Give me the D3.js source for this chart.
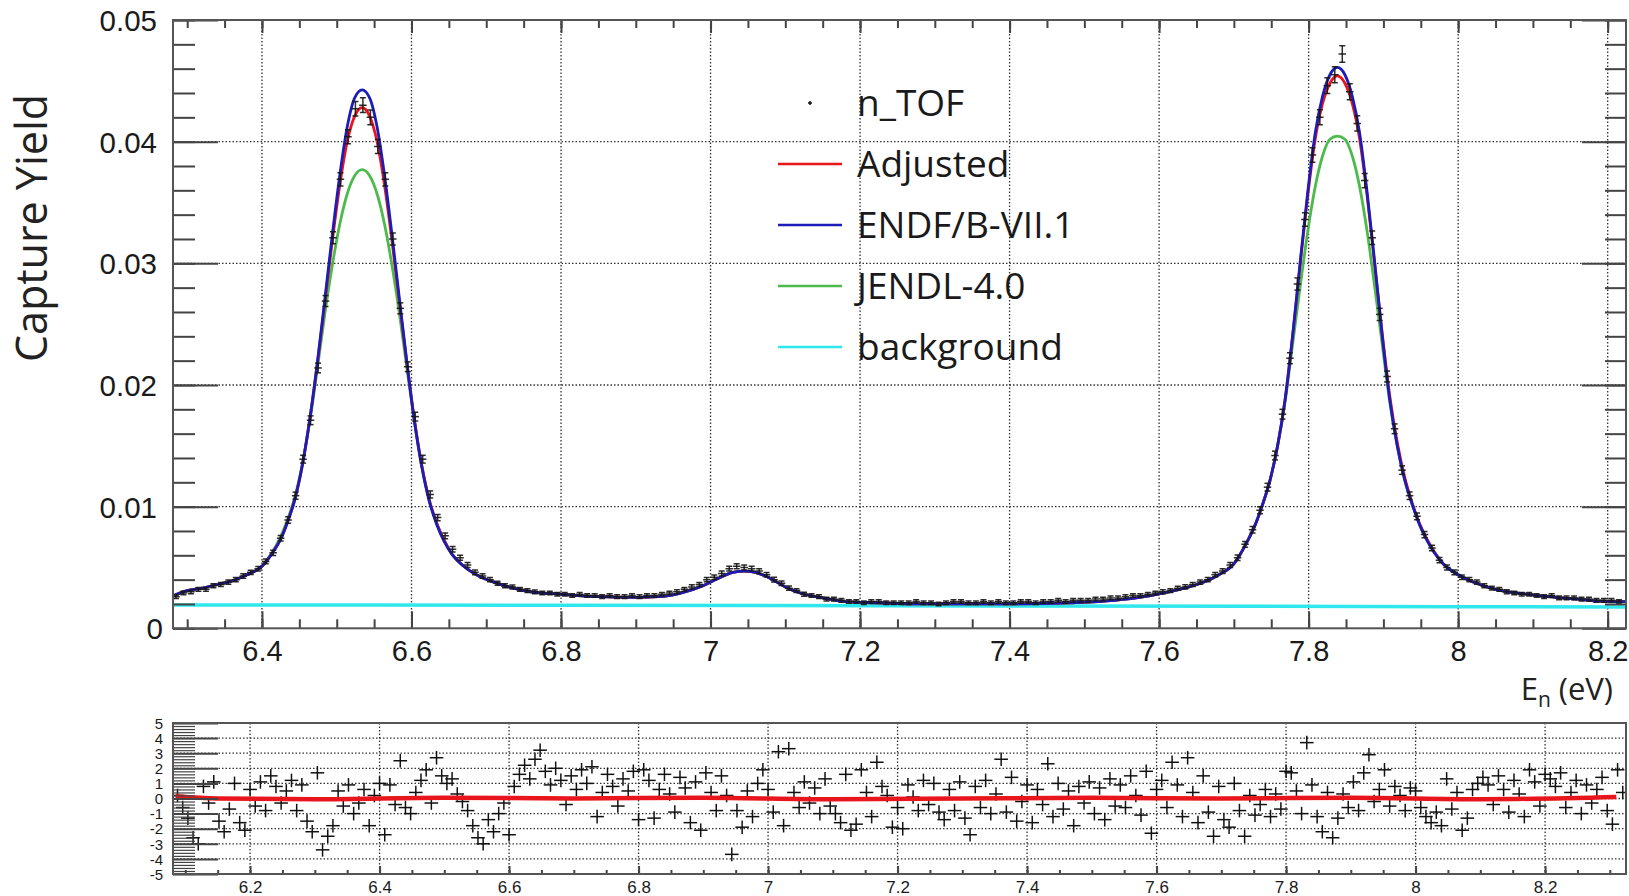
<!DOCTYPE html>
<html>
<head>
<meta charset="utf-8">
<script src="https://cdn.jsdelivr.net/npm/d3@7"></script>
<style>
body{margin:0;background:#fff;}
svg{display:block;font-family:"Open Sans",sans-serif;}
.grid line{stroke:#333;stroke-width:1.3;stroke-dasharray:1.5,2;}
.axis path{display:none;}
.axis line{stroke:#444;stroke-width:2;}
.axis text{fill:#1a1a1a;}
</style>
</head>
<body>
<script>
var curveE = [6.282,6.30,6.32,6.34,6.36,6.38,6.40,6.414,6.424,6.434,6.444,6.454,6.464,6.474,6.484,6.494,6.504,6.514,6.524,6.534,
  6.544,6.554,6.564,6.574,6.584,6.594,6.604,6.614,6.624,6.634,6.644,6.654,6.67,6.69,6.71,6.73,6.76,6.80,6.85,6.90,
  6.93,6.96,6.99,7.01,7.03,7.045,7.06,7.08,7.10,7.12,7.15,7.18,7.22,7.30,7.40,7.48,7.54,7.58,7.62,7.64,
  7.66,7.68,7.70,7.7185,7.7285,7.7385,7.7485,7.7585,7.7685,7.7785,7.7885,7.7985,7.8085,7.8185,7.8285,7.8385,7.8485,7.8585,7.8685,7.8785,
  7.8885,7.8985,7.9085,7.9185,7.9285,7.9385,7.9485,7.9585,7.98,8.00,8.02,8.05,8.08,8.12,8.16,8.20,8.225];

var endf = [.0027,.0031,.0033,.0036,.0039,.0044,.0051,.0062,.0072,.0087,.0106,.0134,.0172,.0218,.0270,.0323,.0372,.0412,.0436,.04425,
  .0436,.0412,.0372,.0323,.0270,.0218,.0170,.0132,.0104,.0085,.0071,.0061,.0051,.0043,.0038,.0034,.0030,.0028,.0026,.00255,
  .0026,.0029,.0035,.0041,.0046,.0047,.0046,.0041,.0034,.0029,.0025,.0022,.0021,.0020,.0020,.0021,.0023,.0026,.0031,.0034,
  .0038,.0044,.0053,.0072,.0085,.0102,.0122,.0150,.0188,.0240,.0300,.0357,.0406,.0437,.0455,.0461,.0455,.0437,.0406,.0357,
  .0300,.0240,.0188,.0150,.0122,.0102,.0085,.0072,.0053,.0044,.0038,.0032,.0029,.0026,.0024,.0022,.0022];

var adjusted = [.0027,.0031,.0033,.0036,.0039,.0044,.0051,.0062,.0072,.0087,.0106,.0134,.0172,.0217,.0267,.0318,.0364,.0400,.0421,.0428,
  .0421,.0400,.0364,.0318,.0267,.0217,.0171,.0133,.0105,.0086,.0072,.0061,.0051,.0043,.0038,.0034,.0030,.0028,.0026,.00255,
  .0026,.0029,.0035,.0041,.0046,.0047,.0046,.0041,.0034,.0029,.0025,.0022,.0021,.0020,.0020,.0021,.0023,.0026,.0031,.0034,
  .0038,.0044,.0053,.0072,.0085,.0102,.0122,.0150,.0188,.0240,.0298,.0354,.0401,.0431,.0448,.0454,.0448,.0431,.0401,.0354,
  .0298,.0242,.0191,.0153,.0124,.0103,.0086,.0073,.0053,.0044,.0038,.0032,.0029,.0026,.0024,.0022,.0022];

var jendl = [.0027,.0031,.0033,.0036,.0039,.0044,.0051,.0063,.0074,.0089,.0108,.0135,.0170,.0213,.0258,.0298,.0332,.0357,.0372,.0377,
  .0372,.0357,.0332,.0298,.0258,.0213,.0170,.0133,.0105,.0086,.0072,.0061,.0051,.0043,.0038,.0034,.0030,.0028,.0026,.00255,
  .0026,.0029,.0035,.0041,.0046,.0047,.0046,.0041,.0034,.0029,.0025,.0022,.0021,.0020,.0020,.0021,.0023,.0026,.0031,.0034,
  .0038,.0044,.0053,.0072,.0085,.0102,.0122,.0150,.0186,.0233,.0280,.0325,.0362,.0388,.0402,.04046,.0402,.0388,.0362,.0325,
  .0280,.0233,.0186,.0150,.0122,.0102,.0085,.0072,.0053,.0044,.0038,.0032,.0029,.0026,.0024,.0022,.0022];

var bgE = [6.281, 6.8, 7.4, 8.0, 8.2245];
var background = [0.00192, 0.00189, 0.00184, 0.00178, 0.00175];

// n_TOF capture yield, one point every 0.01 eV from 6.285 eV
var tofStart = 6.285, tofStep = 0.01;
var nTof = [.0026,.0029,.0030,.0032,.0032,.0035,.0036,.0038,.0040,.0043,
  .0046,.0049,.0055,.0062,.0074,.0089,.0109,.0139,.0171,.0214,
  .0269,.0321,.0369,.0404,.0427,.0430,.0420,.0396,.0369,.0320,
  .0263,.0215,.0174,.0139,.0110,.0091,.0076,.0065,.0058,.0052,
  .0046,.0043,.0040,.0037,.0035,.0034,.0032,.0031,.0030,.0029,
  .0029,.0028,.0028,.0027,.0028,.0027,.0027,.0026,.0027,.0026,
  .0026,.0027,.0026,.0027,.0027,.0028,.0029,.0030,.0032,.0034,
  .0036,.0040,.0042,.0045,.0049,.0051,.0050,.0049,.0047,.0044,
  .0040,.0037,.0033,.0031,.0028,.0027,.0026,.0024,.0024,.0023,
  .0022,.0022,.0021,.0022,.0022,.0021,.0021,.0021,.0021,.0022,
  .0021,.0021,.0020,.0021,.0022,.0022,.0021,.0021,.0022,.0021,
  .0022,.0021,.0021,.0022,.0022,.0021,.0022,.0022,.0023,.0022,
  .0023,.0023,.0023,.0024,.0024,.0025,.0025,.0026,.0027,.0027,
  .0028,.0029,.0030,.0031,.0033,.0034,.0036,.0038,.0040,.0044,
  .0047,.0052,.0058,.0069,.0081,.0097,.0116,.0142,.0176,.0222,
  .0283,.0336,.0389,.0420,.0446,.0455,.0472,.0441,.0415,.0368,
  .0321,.0258,.0207,.0164,.0130,.0109,.0092,.0077,.0066,.0056,
  .0050,.0046,.0042,.0040,.0038,.0035,.0033,.0032,.0030,.0029,
  .0028,.0028,.0027,.0026,.0027,.0025,.0025,.0025,.0024,.0024,
  .0023,.0023,.0023,.0022];
// uncertainties, units of 1e-4
var nTofErr = [1.5,1.5,1.5,1.5,1.5,1.6,1.6,1.7,1.7,1.8,
  1.8,1.9,2,2.1,2.3,2.6,2.9,3.2,3.6,4,
  4.5,5,5.4,5.8,6,6,6,5.8,5.5,5,
  4.5,4,3.6,3.2,2.9,2.6,2.4,2.2,2.1,2,
  1.9,1.8,1.8,1.7,1.7,1.6,1.6,1.6,1.5,1.5,
  1.5,1.5,1.5,1.5,1.5,1.5,1.5,1.5,1.5,1.5,
  1.5,1.5,1.5,1.5,1.5,1.5,1.5,1.6,1.6,1.7,
  1.7,1.8,1.9,2,2,2.1,2.1,2,2,1.9,
  1.9,1.8,1.7,1.6,1.6,1.5,1.5,1.5,1.5,1.5,
  1.5,1.5,1.5,1.5,1.5,1.5,1.5,1.5,1.5,1.5,
  1.5,1.5,1.5,1.5,1.5,1.5,1.5,1.5,1.5,1.5,
  1.5,1.5,1.5,1.5,1.5,1.5,1.5,1.5,1.5,1.5,
  1.5,1.5,1.5,1.5,1.5,1.5,1.5,1.5,1.5,1.5,
  1.5,1.5,1.6,1.6,1.6,1.7,1.7,1.8,1.8,1.9,
  2,2.1,2.2,2.4,2.6,2.9,3.2,3.6,4,4.5,
  5,5.5,5.9,6.2,6.5,6.6,6.8,6.5,6.2,5.9,
  5.5,5,4.5,4,3.5,3.1,2.8,2.5,2.3,2.1,
  2,1.9,1.8,1.8,1.7,1.7,1.6,1.6,1.6,1.5,
  1.5,1.5,1.5,1.5,1.5,1.5,1.5,1.5,1.5,1.5,
  1.5,1.5,1.5,1.5];

// residuals (sigma units), one every 0.008 eV from 6.088 eV
var resStart = 6.088, resStep = 0.008;
var residual = [0.2,-0.6,-1.3,-2.6,-3.0,0.8,-0.3,1.1,-1.5,
  -2.2,-0.7,1.0,-1.6,-2.1,0.6,
  -0.5,1.1,-0.8,1.5,0.8,-0.3,0.5,1.2,-0.8,0.9,
  -1.5,-2.2,1.7,-3.4,-2.5,
  -1.8,0.5,-0.5,0.9,-1.0,-0.3,0.6,-1.8,0.2,1.0,
  -2.4,0.9,-0.4,2.5,-0.6,-1.0,0.4,
  1.2,1.9,-0.3,2.7,1.5,1.0,1.3,0.3,-0.2,
  -0.8,-1.8,-2.6,-3.0,-1.4,-2.2,-1.0,-0.3,-2.4,
  0.8,1.6,2.2,1.3,2.6,3.2,1.8,0.9,2.0,1.2,-0.4,1.5,
  0.6,1.9,1.0,2.1,-1.2,0.4,1.6,0.8,-0.5,1.3,0.5,1.8,-1.4,
  1.9,1.2,-1.3,0.6,1.6,0.3,-0.9,1.4,0.7,-1.6,1.1,-2.1,
  1.7,0.4,-0.8,1.5,0.2,-3.7,-0.8,-1.9,0.5,-1.2,1.0,1.9,0.6,
  -0.9,3.1,-1.8,3.3,0.4,-0.6,1.1,-0.3,0.7,-1.0,1.3,-0.5,
  -1.0,-1.6,1.6,-2.1,-1.7,1.9,0.4,-1.2,2.4,0.8,0.2,-1.9,-0.6,
  -2.0,0.9,0.1,-0.8,1.2,-0.4,1.0,-0.9,-1.4,0.6,-0.8,1.1,
  -1.3,-2.4,0.8,-0.6,1.2,-1.0,0.3,2.6,-0.9,1.4,-1.5,-0.2,0.9,
  -1.6,0.6,-0.4,2.3,-1.2,1.0,-0.7,0.5,-1.8,0.8,-0.3,1.1,
  -1.0,0.7,-1.4,1.3,-0.5,0.9,-0.6,1.5,0.2,-1.1,1.8,-2.3,0.6,
  1.2,-0.6,2.4,0.9,-1.2,2.7,0.4,-1.6,1.5,-0.9,-2.5,0.8,
  -1.4,-1.9,1.0,-0.8,-2.5,0.2,-1.1,-0.4,0.6,-1.2,0.3,-0.7,1.8,
  1.7,0.5,-1.0,3.7,0.9,-1.2,-2.2,0.4,-2.6,-1.3,0.3,-0.6,
  1.1,-0.8,1.7,2.9,-0.2,0.6,1.9,-0.5,0.8,0.2,-0.8,0.7,0.5,
  -0.6,-1.2,-1.6,-0.9,-1.8,1.3,-0.7,0.4,-2.1,-1.3,0.6,1.0,
  1.4,0.9,-0.4,1.5,0.6,-0.9,1.2,0.3,-1.2,1.9,1.1,-0.5,1.6,
  1.3,0.8,1.7,-0.6,0.4,1.2,-1.0,0.9,-0.3,0.6,1.4,-0.8,-1.7,1.9,0.4];

var resLineE = [6.085,6.15,6.3,6.5,6.7,6.9,7.1,7.3,7.5,7.7,7.9,8.1,8.31];
var resLine = [0.15,0.0,-0.05,0.05,0.0,0.05,-0.05,0.0,0.05,0.0,0.05,-0.05,0.1];

var legendItems = [
  {label:"n_TOF", color:"#111", marker:true},
  {label:"Adjusted", color:"#e8161c"},
  {label:"ENDF/B-VII.1", color:"#1c1cb8"},
  {label:"JENDL-4.0", color:"#4cbb4c"},
  {label:"background", color:"#2ee8ee"}
];

var W = 1629, H = 896;
var svg = d3.select("body").append("svg").attr("width", W).attr("height", H);

// ---------- main panel ----------
var m = {left:173, right:1626, top:20, bottom:628.3};
var x = d3.scaleLinear().domain([6.281, 8.2245]).range([m.left, m.right]);
var y = d3.scaleLinear().domain([0, 0.05]).range([m.bottom, m.top]);

svg.append("clipPath").attr("id","clipMain").append("rect")
    .attr("x", m.left).attr("y", m.top).attr("width", m.right - m.left).attr("height", m.bottom - m.top);

var grid = svg.append("g").attr("class","grid");
grid.selectAll(".vx").data(x.ticks(10)).enter().append("line")
    .attr("x1", function(d){ return x(d); }).attr("x2", function(d){ return x(d); })
    .attr("y1", m.top).attr("y2", m.bottom);
grid.selectAll(".hy").data(y.ticks(5).filter(function(d){ return d > 0 && d < 0.05; })).enter().append("line")
    .attr("x1", m.left).attr("x2", m.right)
    .attr("y1", function(d){ return y(d); }).attr("y2", function(d){ return y(d); });

var plot = svg.append("g").attr("clip-path","url(#clipMain)");
var line = d3.line().curve(d3.curveMonotoneX)
    .x(function(d){ return x(d[0]); }).y(function(d){ return y(d[1]); });

plot.append("path").datum(d3.zip(bgE, background)).attr("d", line)
    .attr("fill","none").attr("stroke","#2ee8ee").attr("stroke-width",3.5);
plot.append("path").datum(d3.zip(curveE, jendl)).attr("d", line)
    .attr("fill","none").attr("stroke","#4cbb4c").attr("stroke-width",2.8);
plot.append("path").datum(d3.zip(curveE, adjusted)).attr("d", line)
    .attr("fill","none").attr("stroke","#e8161c").attr("stroke-width",2.8);
plot.append("path").datum(d3.zip(curveE, endf)).attr("d", line)
    .attr("fill","none").attr("stroke","#1c1cb8").attr("stroke-width",2.8);

// data points with error bars
var pts = nTof.map(function(v, k){ return {e: tofStart + k*tofStep, v: v, err: nTofErr[k]*1e-4}; });
var pg = plot.append("g").attr("stroke","#161616").attr("stroke-width",1.5).attr("stroke-opacity",0.9);
pts.forEach(function(p){
    var px = x(p.e);
    pg.append("line").attr("x1",px).attr("x2",px).attr("y1",y(p.v - p.err)).attr("y2",y(p.v + p.err));
    pg.append("line").attr("x1",px-3).attr("x2",px+3).attr("y1",y(p.v + p.err)).attr("y2",y(p.v + p.err));
    pg.append("line").attr("x1",px-3).attr("x2",px+3).attr("y1",y(p.v - p.err)).attr("y2",y(p.v - p.err));
    pg.append("line").attr("x1",x(p.e - tofStep/2)).attr("x2",x(p.e + tofStep/2)).attr("y1",y(p.v)).attr("y2",y(p.v));
});

// axes
var fmtY = function(d){ return d3.format("~g")(d); };
var fmtX = function(d){ return String(+d.toFixed(1)); };
var axB = svg.append("g").attr("class","axis").attr("transform","translate(0,"+m.bottom+")")
    .call(d3.axisBottom(x).ticks(10).tickSize(-17).tickFormat(fmtX));
axB.selectAll("text").attr("dy",null).attr("y",33).style("font-size","29px");
svg.append("g").attr("class","axis").attr("transform","translate(0,"+m.bottom+")")
    .call(d3.axisBottom(x).ticks(40).tickSize(-9).tickFormat(""));
svg.append("g").attr("class","axis").attr("transform","translate(0,"+m.top+")")
    .call(d3.axisTop(x).ticks(10).tickSize(-13).tickFormat(""));
svg.append("g").attr("class","axis").attr("transform","translate(0,"+m.top+")")
    .call(d3.axisTop(x).ticks(40).tickSize(-8).tickFormat(""));

var axL = svg.append("g").attr("class","axis").attr("transform","translate("+m.left+",0)")
    .call(d3.axisLeft(y).ticks(5).tickSize(-45).tickFormat(fmtY));
axL.selectAll("text").attr("x", function(d){ return d === 0 ? -10 : -16; })
    .attr("dy","0.36em").style("font-size","29.5px");
svg.append("g").attr("class","axis").attr("transform","translate("+m.left+",0)")
    .call(d3.axisLeft(y).ticks(25).tickSize(-22).tickFormat(""));
svg.append("g").attr("class","axis").attr("transform","translate("+m.right+",0)")
    .call(d3.axisRight(y).ticks(5).tickSize(-44).tickFormat(""));
svg.append("g").attr("class","axis").attr("transform","translate("+m.right+",0)")
    .call(d3.axisRight(y).ticks(25).tickSize(-21).tickFormat(""));

svg.append("rect").attr("x",m.left).attr("y",m.top).attr("width",m.right-m.left).attr("height",m.bottom-m.top)
    .attr("fill","none").attr("stroke","#555").attr("stroke-width",2);

// axis titles
svg.append("text").attr("transform","translate(47,228) rotate(-90)")
    .attr("text-anchor","middle").style("font-size","43px").attr("fill","#222").text("Capture Yield");
var xt = svg.append("text").attr("x",1613).attr("y",700).attr("text-anchor","end")
    .style("font-size","31px").attr("fill","#222");
xt.append("tspan").text("E");
xt.append("tspan").attr("dy",7).style("font-size","21px").text("n");
xt.append("tspan").attr("dy",-7).text(" (eV)");

// legend
var lg = svg.append("g");
legendItems.forEach(function(it, i){
    var ly = i === 0 ? 103 : 164 + (i-1)*61;
    if (it.marker){
        lg.append("line").attr("x1",808).attr("x2",812).attr("y1",ly).attr("y2",ly).attr("stroke",it.color).attr("stroke-width",1.5);
        lg.append("line").attr("x1",810).attr("x2",810).attr("y1",ly-2).attr("y2",ly+2).attr("stroke",it.color).attr("stroke-width",1.5);
    } else {
        lg.append("line").attr("x1",778).attr("x2",842).attr("y1",ly).attr("y2",ly)
            .attr("stroke",it.color).attr("stroke-width",2.6);
    }
    lg.append("text").attr("x",857).attr("y",ly+12.5).style("font-size","37px").attr("fill","#1a1a1a").text(it.label);
});

// ---------- residual panel ----------
var r = {left:173, right:1626, top:723, bottom:874};
var x2 = d3.scaleLinear().domain([6.081, 8.325]).range([r.left, r.right]);
var y2 = d3.scaleLinear().domain([-5, 5]).range([r.bottom, r.top]);

svg.append("clipPath").attr("id","clipRes").append("rect")
    .attr("x", r.left).attr("y", r.top).attr("width", r.right - r.left).attr("height", r.bottom - r.top);

var grid2 = svg.append("g").attr("class","grid");
grid2.selectAll(".vx").data(x2.ticks(10)).enter().append("line")
    .attr("x1", function(d){ return x2(d); }).attr("x2", function(d){ return x2(d); })
    .attr("y1", r.top).attr("y2", r.bottom);
grid2.selectAll(".hy").data(y2.ticks(10).filter(function(d){ return d > -5 && d < 5; })).enter().append("line")
    .attr("x1", r.left).attr("x2", r.right)
    .attr("y1", function(d){ return y2(d); }).attr("y2", function(d){ return y2(d); });

var rp = svg.append("g").attr("clip-path","url(#clipRes)");
var rg = rp.append("g").attr("stroke","#111").attr("stroke-width",1.5);
residual.forEach(function(v, i){
    var e = resStart + i*resStep;
    rg.append("line").attr("x1",x2(e-0.0105)).attr("x2",x2(e+0.0105)).attr("y1",y2(v)).attr("y2",y2(v));
    rg.append("line").attr("x1",x2(e)).attr("x2",x2(e)).attr("y1",y2(v-0.45)).attr("y2",y2(v+0.45));
});
var line2 = d3.line().curve(d3.curveMonotoneX)
    .x(function(d){ return x2(d[0]); }).y(function(d){ return y2(d[1]); });
rp.append("path").datum(d3.zip(resLineE, resLine)).attr("d", line2)
    .attr("fill","none").attr("stroke","#e8161c").attr("stroke-width",4.5);

var bx = svg.append("g").attr("class","axis").attr("transform","translate(0,"+r.bottom+")")
    .call(d3.axisBottom(x2).ticks(10).tickSize(-8).tickFormat(fmtX));
bx.selectAll("text").attr("dy",null).attr("y",19).style("font-size","17px");
svg.append("g").attr("class","axis").attr("transform","translate(0,"+r.bottom+")")
    .call(d3.axisBottom(x2).ticks(40).tickSize(-4).tickFormat(""));
var by = svg.append("g").attr("class","axis").attr("transform","translate("+r.left+",0)")
    .call(d3.axisLeft(y2).ticks(10).tickSize(-45).tickFormat(function(d){ return String(d); }));
by.selectAll("text").attr("x",-10).attr("dy","0.35em").style("font-size","15px");
svg.append("g").attr("class","axis").attr("transform","translate("+r.left+",0)")
    .call(d3.axisLeft(y2).ticks(50).tickSize(-22).tickFormat(""))
    .selectAll("line").style("stroke-width",1.2);

svg.append("rect").attr("x",r.left).attr("y",r.top).attr("width",r.right-r.left).attr("height",r.bottom-r.top)
    .attr("fill","none").attr("stroke","#555").attr("stroke-width",2);
</script>
</body>
</html>
